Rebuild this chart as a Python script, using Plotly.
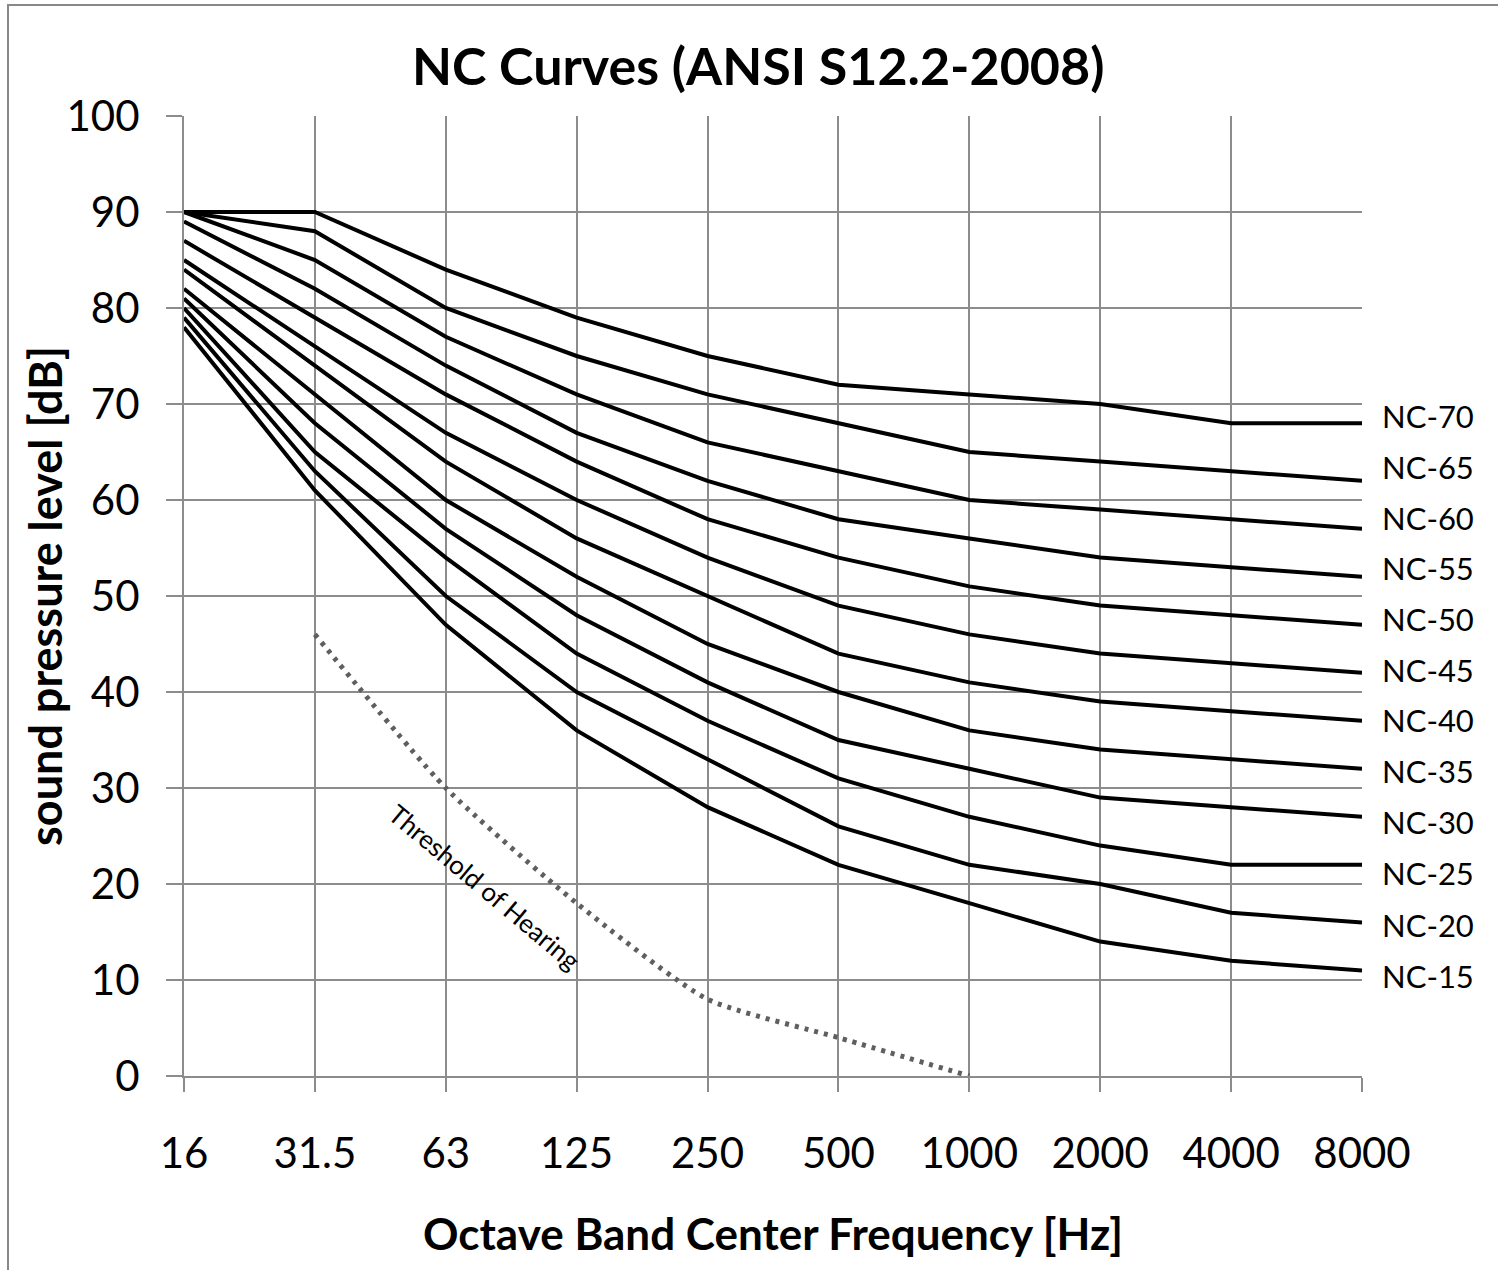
import plotly.graph_objects as go

# ---- data ----
freq_labels = ["16", "31.5", "63", "125", "250", "500", "1000", "2000", "4000", "8000"]

nc70 = [90, 90, 84, 79, 75, 72, 71, 70, 68, 68]
nc65 = [90, 88, 80, 75, 71, 68, 65, 64, 63, 62]
nc60 = [90, 85, 77, 71, 66, 63, 60, 59, 58, 57]
nc55 = [89, 82, 74, 67, 62, 58, 56, 54, 53, 52]
nc50 = [87, 79, 71, 64, 58, 54, 51, 49, 48, 47]
nc45 = [85, 76, 67, 60, 54, 49, 46, 44, 43, 42]
nc40 = [84, 74, 64, 56, 50, 44, 41, 39, 38, 37]
nc35 = [82, 71, 60, 52, 45, 40, 36, 34, 33, 32]
nc30 = [81, 68, 57, 48, 41, 35, 32, 29, 28, 27]
nc25 = [80, 65, 54, 44, 37, 31, 27, 24, 22, 22]
nc20 = [79, 63, 50, 40, 33, 26, 22, 20, 17, 16]
nc15 = [78, 61, 47, 36, 28, 22, 18, 14, 12, 11]

curve_names = ["NC-70", "NC-65", "NC-60", "NC-55", "NC-50", "NC-45",
               "NC-40", "NC-35", "NC-30", "NC-25", "NC-20", "NC-15"]
curves = [nc70, nc65, nc60, nc55, nc50, nc45, nc40, nc35, nc30, nc25, nc20, nc15]

threshold_labels = ["31.5", "63", "125", "250", "500", "1000"]
threshold = [46, 30, 18, 8, 4, 0]

# label placement (data units on y axis), evenly stacked at the right side
label_y = [68.75, 63.45, 58.15, 52.9, 47.6, 42.3, 37.1, 31.8, 26.5, 21.15, 15.75, 10.4]

FONT = "Lato"
GRID = "#8c8c8c"

xpos = list(range(len(freq_labels)))
idx = {lab: i for i, lab in enumerate(freq_labels)}

fig = go.Figure()

for name, vals in zip(curve_names, curves):
    fig.add_trace(go.Scatter(x=xpos, y=vals, mode="lines", name=name,
                             line=dict(color="black", width=4),
                             showlegend=False, hoverinfo="x+y+name"))

fig.add_trace(go.Scatter(x=[idx[l] for l in threshold_labels], y=threshold,
                         mode="lines", name="Threshold of Hearing",
                         line=dict(color="#5f5f5f", width=5, dash="4px,6px",
                                   shape="spline", smoothing=0.6),
                         showlegend=False))

annotations = []
for name, yv in zip(curve_names, label_y):
    annotations.append(dict(x=9, y=yv, xref="x", yref="y", text=name,
                            showarrow=False, xanchor="left", yanchor="middle",
                            xshift=18, font=dict(family=FONT, size=31, color="black")))

annotations.append(dict(x=2.3, y=19.7, xref="x", yref="y", text="Threshold of Hearing",
                        showarrow=False, textangle=40,
                        font=dict(family=FONT, size=26, color="black")))

annotations.append(dict(x=0.487, y=1.053, xref="paper", yref="paper",
                        text="<b>NC Curves (ANSI S12.2-2008)</b>", showarrow=False,
                        xanchor="center", yanchor="middle",
                        font=dict(family=FONT, size=52, color="black")))
annotations.append(dict(x=0.5, y=-0.1635, xref="paper", yref="paper",
                        text="<b>Octave Band Center Frequency [Hz]</b>", showarrow=False,
                        xanchor="center", yanchor="middle",
                        font=dict(family=FONT, size=44, color="black")))
annotations.append(dict(x=-0.118, y=0.5, xref="paper", yref="paper",
                        text="<b>sound pressure level [dB]</b>", showarrow=False,
                        xanchor="center", yanchor="middle", textangle=-90,
                        font=dict(family=FONT, size=45, color="black")))

fig.update_layout(
    width=1498, height=1270,
    margin=dict(l=184, r=136, t=116, b=194, pad=0),
    paper_bgcolor="white", plot_bgcolor="white",
    annotations=annotations,
    shapes=[dict(type="rect", xref="paper", yref="paper",
                 x0=-0.1494, x1=1.14, y0=-0.24, y1=1.1156,
                 line=dict(color="#888888", width=2), layer="below")],
)

fig.update_xaxes(range=[0, 9], tickmode="array", tickvals=xpos, ticktext=freq_labels,
                 showgrid=True, gridcolor=GRID, gridwidth=2,
                 showline=True, linecolor=GRID, linewidth=2,
                 ticks="outside", ticklen=14, tickcolor=GRID, tickwidth=2,
                 ticklabelstandoff=26,
                 tickfont=dict(family=FONT, size=42, color="black"),
                 zeroline=False, fixedrange=True)
fig.update_yaxes(range=[0, 100], tickmode="linear", tick0=0, dtick=10,
                 showgrid=True, gridcolor=GRID, gridwidth=2,
                 showline=True, linecolor=GRID, linewidth=2,
                 ticks="outside", ticklen=16, tickcolor=GRID, tickwidth=2,
                 ticklabelstandoff=18,
                 tickfont=dict(family=FONT, size=42, color="black"),
                 zeroline=False, fixedrange=True)

fig.write_html("out.html", config={"displayModeBar": False},
               post_script="document.body.style.margin='0';")
